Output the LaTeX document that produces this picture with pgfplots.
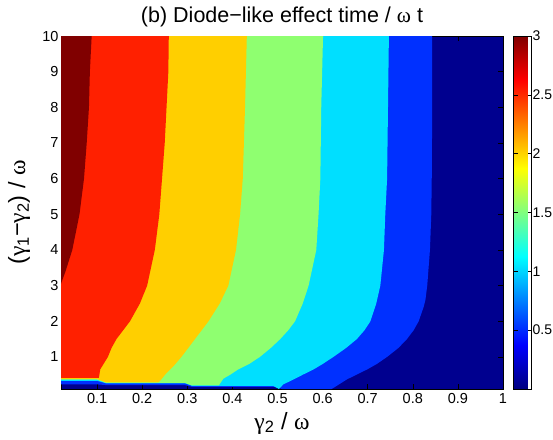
\documentclass[border=0pt]{standalone}
\usepackage{pgfplots}
\pgfplotsset{compat=1.18}
\usepackage{fontspec}
\setmainfont{Liberation Sans}
\newfontfamily\grk{Liberation Serif}
\definecolor{c0}{rgb}{0,0,0.5625}
\definecolor{c1}{rgb}{0,0.1875,1}
\definecolor{c2}{rgb}{0,0.875,1}
\definecolor{c3}{rgb}{0.5625,1,0.4375}
\definecolor{c4}{rgb}{1,0.8125,0}
\definecolor{c5}{rgb}{1,0.125,0}
\definecolor{c6}{rgb}{0.5,0,0}
\begin{document}
\begin{tikzpicture}
\path[use as bounding box] (0,0) rectangle (553pt,439pt);
\begin{axis}[
  at={(61pt,50pt)}, anchor=south west,
  scale only axis, width=442pt, height=353pt,
  xmin=0.02, xmax=1, ymin=0.1, ymax=10,
  xtick={0.1,0.2,0.3,0.4,0.5,0.6,0.7,0.8,0.9,1},
  ytick={1,2,3,4,5,6,7,8,9,10},
  axis background/.style={fill=c0},
  tick align=inside, major tick length=5pt,
  tick style={black, line width=0.5pt},
  axis line style={line width=0.6pt},
  tick label style={font=\fontsize{14.5}{16}\selectfont},
  xticklabel style={yshift=-1pt},
  yticklabel style={xshift=1pt},
  /pgf/number format/assume math mode=true,
  title={(b) Diode−like effect time / {\grk ω} t},
  title style={at={(axis description cs:0.5,1)}, anchor=base, yshift=8pt, font=\fontsize{21.5}{24}\selectfont},
  xlabel={{\grk γ}\textsubscript{2} / {\grk ω}},
  xlabel style={at={(axis description cs:0.5,0)}, anchor=base, yshift=-40pt, font=\fontsize{23.5}{26}\selectfont},
  ylabel={({\grk γ}\textsubscript{1}−{\grk γ}\textsubscript{2}) / {\grk ω}},
  every axis y label/.style={at={(axis description cs:-0.095,0.5)}, rotate=90, anchor=center, font=\fontsize{23.5}{26}\selectfont},
  colorbar, colormap/jet, point meta min=0, point meta max=3,
  colorbar style={
    at={(parent axis.north east)}, anchor=north west, xshift=2pt,
    width=18pt,
    ytick={0.5,1,1.5,2,2.5,3},
    tick align=inside, major tick length=4pt,
    yticklabel pos=right,
    tick label style={font=\fontsize{14}{16}\selectfont},
    yticklabel style={xshift=-2.5pt},
    /pgf/number format/assume math mode=true,
  },
]
% >= 0.5
\addplot[fill=c1, draw=none] coordinates {
 (0.02,10) (0.843,10) (0.843,8) (0.842,6) (0.841,5) (0.838,4) (0.832,3) (0.828,2.6) (0.824,2.4) (0.813,2) (0.802,1.75) (0.787,1.5) (0.768,1.25) (0.743,1) (0.72,0.8) (0.699,0.65) (0.654,0.37) (0.624,0.13) (0.62,0.1) (0.51,0.1) (0.495,0.16) (0.31,0.16) (0.295,0.21) (0.12,0.21) (0.10,0.23) (0.02,0.23)} -- cycle;
% >= 1
\addplot[fill=c2, draw=none] coordinates {
 (0.02,10) (0.747,10) (0.745,8) (0.743,6) (0.739,5) (0.736,4) (0.728,3) (0.719,2.5) (0.706,2) (0.693,1.75) (0.676,1.5) (0.652,1.25) (0.624,1) (0.60,0.8) (0.58,0.65) (0.556,0.5) (0.536,0.37) (0.513,0.23) (0.503,0.1) (0.49,0.19) (0.31,0.19) (0.295,0.26) (0.12,0.26) (0.10,0.33) (0.02,0.33)} -- cycle;
% >= 1.5
\addplot[fill=c3, draw=none] coordinates {
 (0.02,10) (0.601,10) (0.597,8) (0.595,6) (0.591,5) (0.586,4) (0.569,3) (0.556,2.5) (0.539,2) (0.524,1.75) (0.506,1.5) (0.485,1.25) (0.461,1) (0.437,0.8) (0.413,0.65) (0.395,0.5) (0.38,0.39) (0.37,0.2) (0.31,0.2) (0.295,0.27) (0.12,0.27) (0.10,0.36) (0.02,0.36)} -- cycle;
% >= 2
\addplot[fill=c4, draw=none] coordinates {
 (0.02,10) (0.432,10) (0.428,8) (0.423,6) (0.417,5) (0.408,4) (0.391,3) (0.372,2.5) (0.347,2) (0.332,1.75) (0.317,1.5) (0.302,1.25) (0.287,1) (0.27,0.75) (0.254,0.55) (0.239,0.32) (0.235,0.285) (0.12,0.285) (0.10,0.38) (0.02,0.38)} -- cycle;
% >= 2.5
\addplot[fill=c5, draw=none] coordinates {
 (0.02,10) (0.259,10) (0.258,9) (0.254,8) (0.250,7) (0.244,6) (0.238,5) (0.228,4) (0.211,3) (0.195,2.5) (0.173,2) (0.158,1.75) (0.143,1.5) (0.132,1.25) (0.124,1) (0.107,0.65) (0.104,0.41) (0.02,0.41)} -- cycle;
% >= 3
\addplot[fill=c6, draw=none] coordinates {
 (0.02,10) (0.088,10) (0.084,9) (0.082,8) (0.077,7) (0.071,6) (0.061,5) (0.045,4) (0.03,3.4) (0.02,3.05)} -- cycle;
\end{axis}
\end{tikzpicture}
\end{document}
